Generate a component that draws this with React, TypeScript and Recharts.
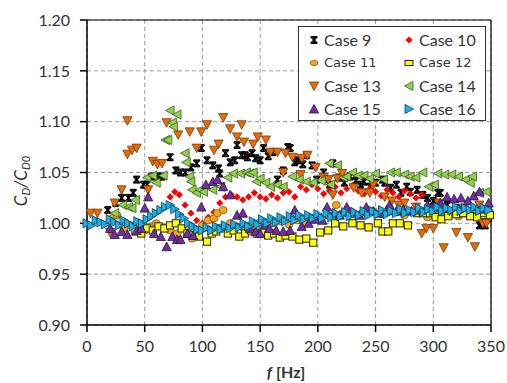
import { ScatterChart, Scatter, XAxis, YAxis, CartesianGrid, ReferenceLine, Label } from "recharts";

const FONT = "Lato, 'Open Sans', sans-serif";

// tick values
const xTicks = [0, 50, 100, 150, 200, 250, 300, 350];
const yTicks = [0.9, 0.95, 1.0, 1.05, 1.1, 1.15, 1.2];

// [f (Hz), CD/CD0]
const case9: [number, number][] = [
    [18, 1.013], [25, 1.02], [30, 1.025], [36, 1.025], [40, 1.03], [43, 1.043], [49, 1.038], [52, 1.038],
    [56, 1.046], [62, 1.046], [65, 1.046], [72, 1.065], [77, 1.052], [81, 1.05], [85, 1.05], [90, 1.055],
    [95, 1.059], [99, 1.074], [104, 1.062], [109, 1.057], [114, 1.054], [115, 1.049], [120, 1.069], [124, 1.06],
    [128, 1.062], [130, 1.077], [134, 1.067], [137, 1.067], [139, 1.065], [143, 1.069], [146, 1.064], [150, 1.062],
    [153, 1.074], [157, 1.066], [161, 1.07], [165, 1.043], [170, 1.052], [174, 1.075], [176, 1.074], [180, 1.06],
    [183, 1.062], [187, 1.058], [190, 1.067], [195, 1.057], [199, 1.043], [205, 1.05], [210, 1.038], [213, 1.059],
    [218, 1.045], [223, 1.04], [228, 1.046], [233, 1.042], [237, 1.038], [240, 1.041], [245, 1.036], [250, 1.04],
    [256, 1.043], [258, 1.04], [263, 1.035], [268, 1.038], [272, 1.03], [277, 1.036], [280, 1.031], [286, 1.033],
    [291, 1.028], [295, 1.025], [300, 1.022], [304, 1.03], [306, 1.03], [312, 1.018], [318, 1.012], [323, 1.015],
    [328, 1.01], [334, 1.012], [340, 0.998], [343, 1.001], [345, 0.998], [348, 1.005],
];

const case10: [number, number][] = [
    [72, 1.026], [76, 1.031], [80, 1.028], [85, 1.018], [90, 1.01], [95, 1.003], [100, 1.0], [105, 1.006],
    [110, 1.011], [115, 1.02], [120, 1.026], [125, 1.028], [130, 1.026], [135, 1.023], [140, 1.026], [145, 1.03],
    [150, 1.026], [155, 1.024], [160, 1.028], [165, 1.025], [170, 1.03], [175, 1.031], [180, 1.026], [185, 1.036],
    [190, 1.033], [195, 1.038], [200, 1.034], [205, 1.029], [210, 1.032], [215, 1.036], [220, 1.03], [225, 1.034],
    [230, 1.037], [235, 1.032], [240, 1.029], [245, 1.034], [250, 1.031], [255, 1.027], [260, 1.033], [265, 1.03],
    [270, 1.026], [275, 1.032], [280, 1.029], [285, 1.025], [290, 1.028], [345, 1.012],
];

const case11: [number, number][] = [
    [22, 1.005], [26, 1.008], [32, 0.995], [38, 0.998], [45, 1.0], [50, 0.993], [55, 0.997], [60, 1.0],
    [66, 0.996], [72, 0.993], [78, 0.99], [85, 0.995], [91, 0.985], [95, 0.991], [100, 0.998], [105, 1.003],
    [110, 1.005], [113, 1.01], [118, 1.013], [124, 1.0], [130, 0.997], [136, 0.995], [142, 0.998], [148, 1.0],
    [155, 0.997], [162, 1.0], [168, 1.002], [175, 0.999], [182, 1.003], [188, 1.0], [195, 1.005], [202, 1.004],
    [208, 1.008], [216, 1.018], [222, 1.01], [228, 1.012], [235, 1.008], [242, 1.01], [248, 1.012], [255, 1.009],
    [262, 1.015], [268, 1.011], [275, 1.008], [282, 1.012], [288, 1.01], [295, 1.006], [302, 1.008], [308, 1.012],
    [315, 1.01], [322, 1.007], [328, 1.011], [335, 1.009], [342, 1.012], [348, 1.01],
];

const case12: [number, number][] = [
    [42, 0.992], [47, 0.99], [52, 0.995], [57, 0.993], [62, 0.997], [67, 0.995], [72, 0.998], [77, 1.0],
    [82, 0.995], [87, 0.99], [92, 0.988], [97, 0.987], [104, 0.982], [108, 0.99], [112, 0.992], [117, 0.995],
    [122, 0.99], [127, 0.993], [132, 0.987], [137, 0.99], [142, 0.993], [147, 0.99], [152, 0.992], [157, 0.988],
    [162, 0.99], [167, 0.986], [172, 0.988], [178, 0.987], [184, 0.984], [190, 0.985], [196, 0.981], [202, 0.991],
    [209, 0.993], [215, 1.0], [222, 0.997], [230, 1.0], [237, 0.998], [244, 0.996], [252, 1.0], [256, 0.992],
    [261, 0.992], [265, 1.0], [271, 1.0], [278, 0.998], [286, 1.01], [291, 1.01], [297, 1.01], [302, 1.006],
    [307, 1.004], [313, 1.007], [320, 1.009], [326, 1.01], [332, 1.007], [338, 1.006], [344, 1.01], [349, 1.008],
];

const case13: [number, number][] = [
    [3, 1.01], [9, 1.01], [20, 0.991], [24, 1.02], [30, 1.033], [35, 1.101], [35, 1.068], [39, 1.072],
    [43, 1.074], [53, 1.033], [57, 1.061], [61, 1.058], [65, 1.059], [69, 1.099], [79, 1.087], [89, 1.09],
    [95, 1.074], [99, 1.09], [104, 1.097], [110, 1.072], [114, 1.078], [118, 1.104], [124, 1.093], [130, 1.085],
    [134, 1.097], [136, 1.08], [144, 1.078], [148, 1.085], [155, 1.082], [159, 1.07], [165, 1.07], [170, 1.05],
    [172, 1.069], [178, 1.065], [185, 1.048], [186, 1.064], [191, 1.067], [198, 1.055], [205, 1.045], [209, 1.043],
    [213, 1.028], [217, 1.044], [221, 1.049], [231, 1.035], [238, 1.03], [245, 1.03], [248, 1.038], [258, 1.026],
    [264, 1.022], [270, 1.018], [275, 1.02], [285, 1.016], [290, 0.99], [294, 0.995], [300, 0.995], [305, 1.02],
    [309, 0.976], [314, 1.012], [320, 0.991], [326, 1.015], [330, 0.986], [336, 0.977], [340, 1.018], [343, 1.0],
    [346, 1.0],
];

const case14: [number, number][] = [
    [24, 1.01], [31, 1.018], [36, 1.016], [39, 1.015], [42, 1.023], [52, 1.045], [57, 1.047], [60, 1.04],
    [66, 1.047], [68, 1.082], [70, 1.082], [72, 1.111], [74, 1.099], [75, 1.095], [78, 1.107], [85, 1.069],
    [86, 1.06], [89, 1.046], [90, 1.041], [91, 1.033], [95, 1.03], [98, 1.033], [101, 1.031], [109, 1.033],
    [116, 1.036], [122, 1.045], [127, 1.049], [133, 1.049], [138, 1.05], [141, 1.049], [144, 1.05], [147, 1.041],
    [150, 1.044], [155, 1.04], [159, 1.036], [165, 1.038], [170, 1.036], [178, 1.046], [184, 1.043], [190, 1.041],
    [196, 1.04], [203, 1.042], [210, 1.059], [211, 1.038], [217, 1.057], [222, 1.045], [225, 1.046], [230, 1.05],
    [235, 1.047], [240, 1.047], [245, 1.044], [250, 1.049], [257, 1.043], [263, 1.05], [268, 1.05], [275, 1.048],
    [280, 1.046], [285, 1.045], [291, 1.05], [296, 1.036], [301, 1.038], [304, 1.049], [310, 1.048], [316, 1.048],
    [322, 1.046], [328, 1.043], [332, 1.04], [334, 1.046], [340, 1.03], [346, 1.031],
];

const case15: [number, number][] = [
    [20, 0.995], [24, 0.989], [30, 0.992], [35, 0.989], [43, 0.993], [47, 0.995], [50, 1.015], [53, 1.026],
    [58, 0.99], [64, 0.987], [69, 0.977], [74, 0.987], [78, 0.984], [81, 0.984], [87, 0.99], [92, 0.988],
    [99, 1.016], [103, 1.038], [109, 1.041], [113, 1.043], [118, 1.036], [124, 1.028], [130, 1.008], [135, 1.01],
    [141, 0.995], [146, 0.992], [150, 0.99], [154, 0.998], [158, 0.995], [164, 0.993], [170, 0.992], [176, 0.993],
    [180, 1.013], [186, 0.997], [192, 1.0], [198, 1.004], [204, 1.003], [208, 1.016], [214, 1.01], [219, 1.008],
    [225, 1.016], [230, 1.01], [236, 1.008], [242, 1.016], [248, 1.012], [254, 1.01], [262, 1.018], [268, 1.012],
    [274, 1.014], [281, 1.012], [288, 1.013], [295, 1.018], [300, 1.016], [306, 1.02], [312, 1.026], [318, 1.024],
    [324, 1.025], [330, 1.022], [335, 1.027], [340, 1.031], [343, 1.014], [348, 1.02],
];

const case16: [number, number][] = [
    [0, 1.0], [4, 0.998], [8, 1.003], [12, 1.001], [16, 0.999], [20, 1.004], [24, 1.001], [28, 0.998],
    [32, 1.003], [36, 1.0], [40, 0.997], [44, 1.002], [48, 1.0], [52, 1.004], [56, 1.007], [60, 1.01],
    [64, 1.013], [68, 1.016], [72, 1.018], [76, 1.014], [80, 1.009], [84, 1.005], [88, 1.0], [92, 0.997],
    [96, 0.994], [100, 0.993], [104, 0.996], [108, 0.993], [112, 0.997], [116, 0.994], [120, 0.998], [124, 0.995],
    [128, 0.999], [132, 0.996], [136, 1.0], [140, 0.997], [144, 1.002], [148, 0.999], [152, 1.004], [156, 1.0],
    [160, 1.005], [164, 1.001], [168, 1.006], [172, 1.002], [176, 1.007], [180, 1.003], [184, 1.008], [188, 1.004],
    [192, 1.008], [196, 1.005], [200, 1.009], [204, 1.005], [208, 1.01], [212, 1.006], [216, 1.01], [220, 1.007],
    [224, 1.011], [228, 1.007], [232, 1.011], [236, 1.008], [240, 1.012], [244, 1.008], [248, 1.012], [252, 1.009],
    [256, 1.013], [260, 1.009], [264, 1.012], [268, 1.01], [272, 1.014], [276, 1.01], [280, 1.013], [284, 1.011],
    [288, 1.015], [292, 1.011], [296, 1.014], [300, 1.012], [304, 1.016], [308, 1.012], [312, 1.015], [316, 1.013],
    [320, 1.016], [324, 1.012], [328, 1.015], [332, 1.013], [336, 1.016], [340, 1.012], [344, 1.015], [348, 1.013],
];

const toPoints = (arr: [number, number][]) => arr.map(([f, v]) => ({ f, v }));

// ---- marker shapes ----
function Star({ cx, cy }: any) {
    const r = 3.2;
    return (
        <g stroke="#000" strokeWidth={1.6}>
            <line x1={cx - r} y1={cy - r} x2={cx + r} y2={cy + r} />
            <line x1={cx - r} y1={cy + r} x2={cx + r} y2={cy - r} />
            <line x1={cx} y1={cy - r} x2={cx} y2={cy + r} />
            <line x1={cx - r} y1={cy - r} x2={cx + r} y2={cy - r} />
            <line x1={cx - r} y1={cy + r} x2={cx + r} y2={cy + r} />
        </g>
    );
}

function Diamond({ cx, cy }: any) {
    const r = 3.6;
    return <path d={`M${cx},${cy - r}L${cx + r},${cy}L${cx},${cy + r}L${cx - r},${cy}Z`} fill="#ff0000" />;
}

function Dot({ cx, cy }: any) {
    return <ellipse cx={cx} cy={cy} rx={4} ry={3.6} fill="#f2a51f" stroke="#8a5a10" strokeWidth={0.8} />;
}

function Square({ cx, cy }: any) {
    return <rect x={cx - 3.6} y={cy - 3.6} width={7.2} height={7.2} fill="#ffff00" stroke="#222" strokeWidth={1} />;
}

function tri(dir: "up" | "down" | "left" | "right", fill: string, stroke: string) {
    return function Tri({ cx, cy }: any) {
        const a = 4.6;
        const b = 4;
        let d = "";
        if (dir === "up") d = `M${cx},${cy - a}L${cx + a},${cy + b}L${cx - a},${cy + b}Z`;
        if (dir === "down") d = `M${cx},${cy + a}L${cx + a},${cy - b}L${cx - a},${cy - b}Z`;
        if (dir === "left") d = `M${cx - a},${cy}L${cx + b},${cy - a}L${cx + b},${cy + a}Z`;
        if (dir === "right") d = `M${cx + a},${cy}L${cx - b},${cy - a}L${cx - b},${cy + a}Z`;
        return <path d={d} fill={fill} stroke={stroke} strokeWidth={0.8} />;
    };
}

const TriDown = tri("down", "#e46c0a", "#7a3a05");
const TriLeft = tri("left", "#92d050", "#3d5a22");
const TriUp = tri("up", "#7030a0", "#2a103d");
const TriRight = tri("right", "#1fb0e8", "#0d3f5c");

const series = [
    { name: "Case 9", data: case9, shape: Star },
    { name: "Case 10", data: case10, shape: Diamond },
    { name: "Case 11", data: case11, shape: Dot },
    { name: "Case 12", data: case12, shape: Square },
    { name: "Case 13", data: case13, shape: TriDown },
    { name: "Case 14", data: case14, shape: TriLeft },
    { name: "Case 15", data: case15, shape: TriUp },
    { name: "Case 16", data: case16, shape: TriRight },
];

function LegendBox() {
    const cols = [15, 110];
    const rows = [13, 36, 59, 82];
    return (
        <div
            style={{
                position: "absolute",
                left: 298,
                top: 26,
                width: 186,
                height: 93,
                background: "#fff",
                border: "1px solid #333",
            }}
        >
            {series.map((s, i) => {
                const col = cols[i % 2];
                const row = rows[Math.floor(i / 2)];
                const Shape = s.shape;
                const small = s.name === "Case 11" || s.name === "Case 12";
                return (
                    <div key={s.name}>
                        <svg width={14} height={14} style={{ position: "absolute", left: col - 7, top: row - 7 }}>
                            {s.name === "Case 11" ? (
                                <ellipse cx={7} cy={7} rx={4} ry={2.6} fill="#f2a51f" stroke="#8a5a10" strokeWidth={0.8} />
                            ) : s.name === "Case 12" ? (
                                <rect x={3} y={4.5} width={8} height={5} fill="#ffff00" stroke="#222" strokeWidth={1} />
                            ) : (
                                <Shape cx={7} cy={7} />
                            )}
                        </svg>
                        <span
                            style={{
                                position: "absolute",
                                left: col + 10,
                                top: row - (small ? 9 : 11),
                                fontFamily: small ? "'DejaVu Sans', sans-serif" : FONT,
                                fontSize: small ? 13 : 16,
                                lineHeight: small ? "18px" : "22px",
                                color: "#333",
                                whiteSpace: "nowrap",
                            }}
                        >
                            {s.name}
                        </span>
                    </div>
                );
            })}
        </div>
    );
}

export default function App() {
    return (
        <div style={{ position: "fixed", left: 0, top: 0, width: 507, height: 383, background: "#fff" }}>
            <ScatterChart width={507} height={383} margin={{ top: 20, right: 16, left: 0, bottom: 0 }}>
                <CartesianGrid stroke="#9a9a9a" strokeDasharray="4 3" />
                <XAxis
                    type="number"
                    dataKey="f"
                    domain={[0, 350]}
                    ticks={xTicks}
                    interval={0}
                    height={58}
                    tickSize={7}
                    tickMargin={9}
                    stroke="#000"
                    strokeWidth={1.5}
                    tick={{ fill: "#333", fontSize: 16, fontFamily: FONT }}
                >
                    <Label
                        content={() => (
                            <text x={286} y={378} textAnchor="middle" fontFamily={FONT} fontSize={16} fontWeight="bold" fill="#333">
                                <tspan fontStyle="italic">f</tspan> [Hz]
                            </text>
                        )}
                    />
                </XAxis>
                <YAxis
                    type="number"
                    dataKey="v"
                    domain={[0.9, 1.2]}
                    ticks={yTicks}
                    interval={0}
                    width={87}
                    tickSize={7}
                    tickMargin={10}
                    stroke="#000"
                    strokeWidth={1.5}
                    tickFormatter={(v: number) => v.toFixed(2)}
                    tick={{ fill: "#333", fontSize: 16, fontFamily: FONT }}
                >
                    <Label
                        content={() => (
                            <text transform="translate(27,181) rotate(-90)" textAnchor="middle" fontFamily={FONT} fontSize={17} fontStyle="italic" fill="#333">
                                C<tspan fontSize={11} dy={3}>D</tspan>
                                <tspan fontSize={17} dy={-3}>/C</tspan>
                                <tspan fontSize={11} dy={3}>D0</tspan>
                            </text>
                        )}
                    />
                </YAxis>
                <ReferenceLine y={1.2} stroke="#000" strokeWidth={1.2} />
                <ReferenceLine x={350} stroke="#000" strokeWidth={1.2} />
                {series.map((s) => (
                    <Scatter key={s.name} name={s.name} data={toPoints(s.data)} shape={s.shape} isAnimationActive={false} />
                ))}
            </ScatterChart>
            <LegendBox />
        </div>
    );
}
